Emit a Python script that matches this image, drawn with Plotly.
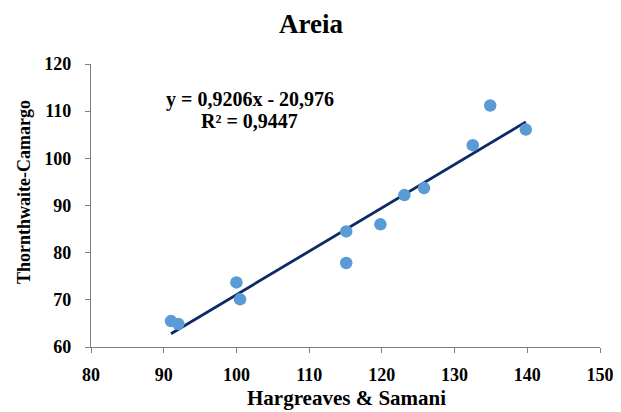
import plotly.graph_objects as go

# Data
hs = [91.0, 92.0, 100.0, 100.5, 115.1, 115.1, 119.8, 123.1, 125.8, 132.5, 134.9, 139.8]
tc = [65.5, 64.9, 73.7, 70.1, 84.5, 77.8, 86.0, 92.2, 93.7, 102.8, 111.2, 106.1]

slope = 0.9206
intercept = -20.976
r2 = 0.9447

x_ticks = [80, 90, 100, 110, 120, 130, 140, 150]
y_ticks = [60, 70, 80, 90, 100, 110, 120]

font_family = "Liberation Serif, Times New Roman, serif"

# The page body has an 8px default margin; the figure is sized/placed to compensate.
OFF = 8
W, H = 621 - OFF, 412 - OFF

x_line = [min(hs), max(hs)]
y_line = [slope * v + intercept for v in x_line]

fig = go.Figure()
fig.add_trace(go.Scatter(
    x=x_line, y=y_line, mode="lines",
    line=dict(color="#0B2A66", width=2.8), showlegend=False, hoverinfo="skip"))
fig.add_trace(go.Scatter(
    x=hs, y=tc, mode="markers",
    marker=dict(color="#5B9BD5", size=12.5), showlegend=False))

eq_line1 = "y = " + f"{slope:.4f}".replace(".", ",") + "x - " + f"{-intercept:.3f}".replace(".", ",")
eq_line2 = "R² = " + f"{r2:.4f}".replace(".", ",")

fig.add_annotation(
    x=0.312, y=0.873, xref="paper", yref="paper", text="<b>" + eq_line1 + "</b>",
    showarrow=False, xanchor="center", yanchor="middle",
    font=dict(family=font_family, size=20, color="black"))
fig.add_annotation(
    x=0.312, y=0.798, xref="paper", yref="paper", text="<b>" + eq_line2 + "</b>",
    showarrow=False, xanchor="center", yanchor="middle",
    font=dict(family=font_family, size=20, color="black"))

# Axis titles as annotations for precise placement
fig.add_annotation(
    x=(346 - 91) / 509, y=-(398 - 347) / 283, xref="paper", yref="paper",
    text="<b>Hargreaves & Samani</b>", showarrow=False,
    xanchor="center", yanchor="middle",
    font=dict(family=font_family, size=21, color="black"))
fig.add_annotation(
    x=-(91 - 24) / 509, y=(347 - 192) / 283, xref="paper", yref="paper",
    text="<b>Thornthwaite-Camargo</b>", showarrow=False, textangle=-90,
    xanchor="center", yanchor="middle",
    font=dict(family=font_family, size=18, color="black"))

axis_common = dict(
    showgrid=False, zeroline=False, showline=True, linecolor="#7F7F7F", linewidth=1.3,
    ticks="outside", ticklen=5, tickcolor="#7F7F7F", tickwidth=1.3,
    automargin=False,
    tickfont=dict(family=font_family, size=18, color="black", weight="bold"),
)

fig.update_layout(
    width=W, height=H,
    paper_bgcolor="white", plot_bgcolor="white",
    margin=dict(l=91 - OFF, r=21, t=64 - OFF, b=65),
    title=dict(text="<b>Areia</b>", x=(311 - OFF) / W, xanchor="center",
               y=1 - (24 - OFF) / H, yanchor="middle", yref="container",
               font=dict(family=font_family, size=27, color="black")),
    xaxis=dict(range=[80, 150], tickvals=x_ticks, ticklabelstandoff=6, **axis_common),
    yaxis=dict(range=[60, 120], tickvals=y_ticks, ticklabelstandoff=10, **axis_common),
)

fig.write_html("out.html")
